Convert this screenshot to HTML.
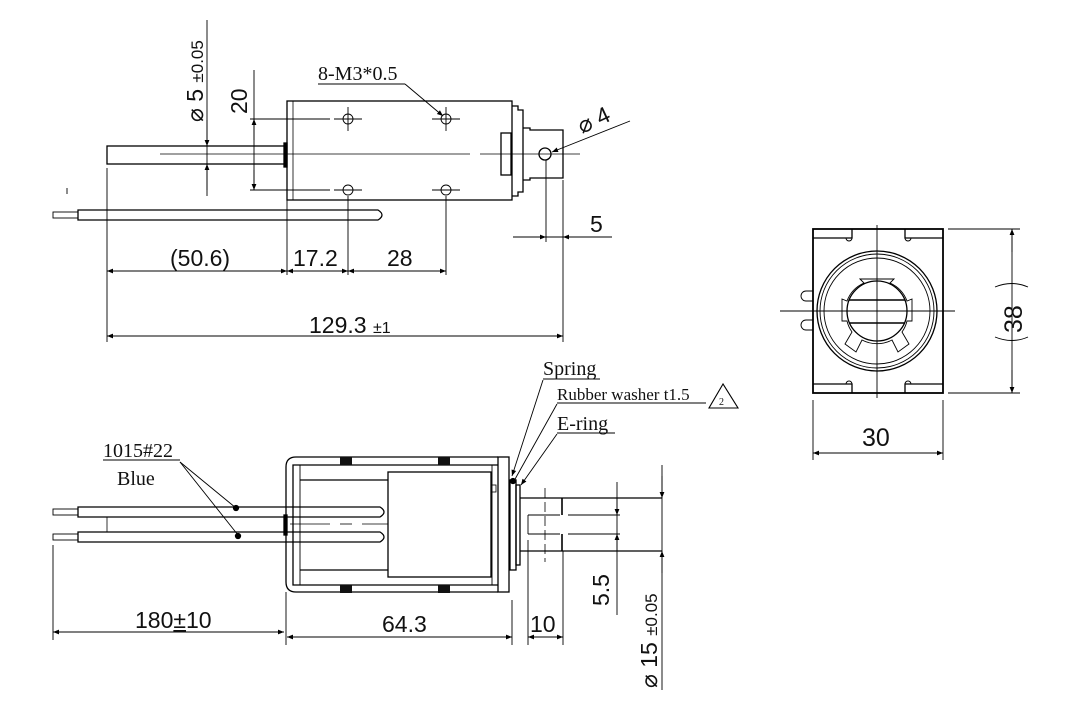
<!DOCTYPE html>
<html><head><meta charset="utf-8"><style>
html,body{margin:0;padding:0;background:#fff;}
svg{display:block;}
text{font-family:"Liberation Sans Narrow","Liberation Sans",sans-serif;fill:#111;}
.s{font-family:"Liberation Serif",serif;}
</style></head><body>
<svg width="1080" height="720" viewBox="0 0 1080 720" xmlns="http://www.w3.org/2000/svg">
<defs>
<marker id="a" viewBox="0 0 10 10" refX="10" refY="5" markerWidth="14" markerHeight="6" markerUnits="userSpaceOnUse" orient="auto-start-reverse"><path d="M0,1 L10,5 L0,9 z" fill="#000"/></marker>
</defs>
<g stroke="#000" fill="none" stroke-width="1.3">
<!-- TOP VIEW -->
<rect x="287" y="101" width="225" height="99"/>
<line x1="293" y1="101" x2="293" y2="200" stroke-width="0.8"/>
<rect x="107" y="146" width="178" height="18"/>
<rect x="284" y="143" width="3" height="24" fill="#000"/>
<line x1="160" y1="154" x2="470" y2="154" stroke-width="0.8"/>
<line x1="480" y1="154" x2="580" y2="154" stroke-width="0.8"/>
<path d="M512,106 H518 V110 H523 V192 H518 V196 H512"/>
<rect x="501" y="133" width="10" height="42"/>
<path d="M523,128 L530,128 L530,130 L563,130 L563,178 L530,178 L530,180 L523,180"/>
<circle cx="545" cy="154" r="6"/>
<g stroke-width="0.9">
<circle cx="348" cy="119" r="5"/><circle cx="446" cy="119" r="5"/>
<circle cx="348" cy="190" r="5"/><circle cx="446" cy="190" r="5"/>
<line x1="334" y1="119" x2="362" y2="119"/><line x1="432" y1="119" x2="460" y2="119"/>
<line x1="334" y1="190" x2="362" y2="190"/><line x1="432" y1="190" x2="460" y2="190"/>
<line x1="348" y1="107" x2="348" y2="131"/><line x1="446" y1="107" x2="446" y2="131"/>
</g>
<path d="M78,210 H378 Q386,215 378,220 H78 Z"/>
<rect x="53" y="212" width="25" height="6" stroke-width="0.9"/>
<line x1="67" y1="188" x2="67" y2="194" stroke-width="0.9"/>
<g stroke-width="0.9">
<line x1="250" y1="119" x2="330" y2="119"/><line x1="250" y1="190" x2="330" y2="190"/>
<line x1="254" y1="70" x2="254" y2="190"/>
<line x1="254" y1="140" x2="254" y2="119" marker-end="url(#a)"/>
<line x1="254" y1="170" x2="254" y2="190" marker-end="url(#a)"/>
<line x1="207" y1="20" x2="207" y2="196"/>
<line x1="207" y1="120" x2="207" y2="146" marker-end="url(#a)"/>
<line x1="207" y1="190" x2="207" y2="164" marker-end="url(#a)"/>
<line x1="318" y1="84" x2="405" y2="84"/>
<line x1="405" y1="84" x2="443" y2="116" marker-end="url(#a)"/>
<line x1="630" y1="121" x2="552" y2="152" marker-end="url(#a)"/>
<line x1="107" y1="168" x2="107" y2="342"/>
<line x1="287" y1="200" x2="287" y2="275"/>
<line x1="348" y1="196" x2="348" y2="275"/>
<line x1="446" y1="196" x2="446" y2="275"/>
<line x1="563" y1="180" x2="563" y2="342"/>
<line x1="546" y1="160" x2="546" y2="242"/>
<line x1="107" y1="271" x2="446" y2="271"/>
<line x1="130" y1="271" x2="107" y2="271" marker-end="url(#a)"/>
<line x1="265" y1="271" x2="287" y2="271" marker-end="url(#a)"/>
<line x1="305" y1="271" x2="287" y2="271" marker-end="url(#a)"/>
<line x1="330" y1="271" x2="348" y2="271" marker-end="url(#a)"/>
<line x1="366" y1="271" x2="348" y2="271" marker-end="url(#a)"/>
<line x1="428" y1="271" x2="446" y2="271" marker-end="url(#a)"/>
<line x1="107" y1="336" x2="563" y2="336"/>
<line x1="130" y1="336" x2="107" y2="336" marker-end="url(#a)"/>
<line x1="540" y1="336" x2="563" y2="336" marker-end="url(#a)"/>
<line x1="513" y1="237" x2="612" y2="237"/>
<line x1="526" y1="237" x2="546" y2="237" marker-end="url(#a)"/>
<line x1="583" y1="237" x2="563" y2="237" marker-end="url(#a)"/>
</g>
<!-- BOTTOM VIEW -->
<path d="M498,457 H296 Q286,457 286,467 V582 Q286,592 296,592 H498"/>
<path d="M498,465 H293 V585 H498"/>
<line x1="300" y1="465" x2="300" y2="585" stroke-width="0.9"/>
<rect x="498" y="457" width="11" height="135"/>
<line x1="492" y1="465" x2="492" y2="585" stroke-width="0.9"/>
<rect x="388" y="472" width="103" height="105"/>
<rect x="491" y="485" width="5" height="7" stroke-width="0.8"/>
<line x1="300" y1="480" x2="388" y2="480"/><line x1="300" y1="570" x2="388" y2="570"/>
<g fill="#111" stroke="none">
<rect x="340" y="457" width="12" height="8"/><rect x="438" y="457" width="12" height="8"/>
<rect x="340" y="585" width="12" height="8"/><rect x="438" y="585" width="12" height="8"/>
</g>
<path d="M78,507 H380 Q388,512 380,517 H78 Z"/>
<path d="M78,532 H380 Q388,537 380,542 H78 Z"/>
<rect x="53" y="509" width="25" height="6" stroke-width="0.9"/>
<rect x="53" y="534" width="25" height="6" stroke-width="0.9"/>
<line x1="107" y1="517" x2="107" y2="532" stroke-width="0.8"/>
<rect x="284" y="515" width="3" height="20" fill="#000"/>
<line x1="290" y1="524" x2="330" y2="524" stroke-width="0.8"/>
<line x1="340" y1="524" x2="352" y2="524" stroke-width="0.8"/>
<line x1="362" y1="524" x2="388" y2="524" stroke-width="0.8"/>
<rect x="510" y="480" width="6" height="90"/>
<rect x="516" y="485" width="4" height="80"/>
<path d="M520,498 H662 M520,551 H662"/>
<path d="M528,515 V534 M528,515 H560 M568,515 H620 M528,534 H560 M568,534 H620" stroke-width="0.9"/>
<line x1="562" y1="498" x2="562" y2="515" stroke-width="1.6"/><line x1="562" y1="534" x2="562" y2="551" stroke-width="1.6"/>
<line x1="545" y1="488" x2="545" y2="562" stroke-width="0.8" stroke-dasharray="10,4"/>
<g stroke-width="0.9">
<line x1="512" y1="600" x2="512" y2="645"/>
<line x1="528" y1="540" x2="528" y2="645"/>
<line x1="563" y1="551" x2="563" y2="645"/>
<line x1="286" y1="592" x2="286" y2="645"/>
<line x1="53" y1="545" x2="53" y2="640"/>
<line x1="53" y1="632" x2="284" y2="632"/>
<line x1="75" y1="632" x2="53" y2="632" marker-end="url(#a)"/>
<line x1="262" y1="632" x2="284" y2="632" marker-end="url(#a)"/>
<line x1="287" y1="637" x2="512" y2="637"/>
<line x1="309" y1="637" x2="287" y2="637" marker-end="url(#a)"/>
<line x1="490" y1="637" x2="512" y2="637" marker-end="url(#a)"/>
<line x1="528" y1="637" x2="563" y2="637"/>
<line x1="545" y1="637" x2="528" y2="637" marker-end="url(#a)"/>
<line x1="546" y1="637" x2="563" y2="637" marker-end="url(#a)"/>
<line x1="617" y1="482" x2="617" y2="615"/>
<line x1="617" y1="498" x2="617" y2="515" marker-end="url(#a)"/>
<line x1="617" y1="551" x2="617" y2="534" marker-end="url(#a)"/>
<line x1="662" y1="465" x2="662" y2="690"/>
<line x1="662" y1="476" x2="662" y2="498" marker-end="url(#a)"/>
<line x1="662" y1="573" x2="662" y2="551" marker-end="url(#a)"/>
<line x1="103" y1="460" x2="180" y2="460"/>
<line x1="180" y1="462" x2="236" y2="508"/><line x1="180" y1="462" x2="238" y2="535"/>
<line x1="543" y1="379" x2="600" y2="379"/>
<line x1="543" y1="380" x2="512" y2="476" marker-end="url(#a)"/>
<line x1="557" y1="403" x2="706" y2="403"/>
<line x1="557" y1="404" x2="514" y2="481"/>
<line x1="557" y1="433" x2="615" y2="433"/>
<line x1="557" y1="434" x2="521" y2="485" marker-end="url(#a)"/>
<path d="M723,384 L709,408 L738,408 Z" stroke-width="1.1"/>
</g>
<circle cx="236" cy="508" r="2.5" fill="#000"/><circle cx="238" cy="536" r="2.5" fill="#000"/>
<circle cx="513" cy="481" r="2.5" fill="#000"/>
<!-- RIGHT VIEW -->
<rect x="813" y="229" width="130" height="164" stroke-width="1.8"/>
<path d="M813,238 H852 V229 M905,229 V238 H943 M813,384 H852 V393 M905,393 V384 H943"/>
<path d="M846,238 a3,3 0 0 0 6,0 M905,238 a3,3 0 0 0 6,0 M846,384 a3,3 0 0 1 6,0 M905,384 a3,3 0 0 1 6,0" stroke-width="0.9"/>
<circle cx="877" cy="311" r="60"/>
<circle cx="877" cy="311" r="57" stroke-width="0.9"/>
<circle cx="877" cy="311" r="53" stroke-width="0.9"/>
<path d="M860,279 L864,283 A32,32 0 0 0 847,301 L842,299 V321 L847,321 A32,32 0 0 0 852,332 L845,344 L856,352 L862,340 A32,32 0 0 0 892,340 L898,352 L909,344 L902,332 A32,32 0 0 0 907,321 L912,321 V299 L907,301 A32,32 0 0 0 890,283 L894,279 Z" stroke-width="0.9"/>
<circle cx="877" cy="311" r="30"/>
<path d="M849,300 H905 M849,323 H905" stroke-width="1.6"/>
<path d="M813,291 H806 a5,5 0 0 0 0,10 H813 M813,320 H806 a5,5 0 0 0 0,10 H813" stroke-width="0.9"/>
<g stroke-width="0.9">
<line x1="780" y1="311" x2="955" y2="311"/>
<line x1="877" y1="225" x2="877" y2="398"/>
<line x1="948" y1="229" x2="1020" y2="229"/><line x1="948" y1="393" x2="1020" y2="393"/>
<line x1="1012" y1="229" x2="1012" y2="393"/>
<line x1="1012" y1="252" x2="1012" y2="229" marker-end="url(#a)"/>
<line x1="1012" y1="370" x2="1012" y2="393" marker-end="url(#a)"/>
<line x1="813" y1="400" x2="813" y2="460"/><line x1="943" y1="400" x2="943" y2="460"/>
<line x1="813" y1="453" x2="943" y2="453"/>
<line x1="835" y1="453" x2="813" y2="453" marker-end="url(#a)"/>
<line x1="921" y1="453" x2="943" y2="453" marker-end="url(#a)"/>
<path d="M995,287 Q1012,280 1028,287 M995,337 Q1012,344 1028,337"/>
</g>
</g>
<!-- TEXT -->
<text x="318" y="80" font-size="20" class="s">8-M3*0.5</text>
<text x="0" y="0" font-size="23" transform="translate(247,114) rotate(-90)">20</text>
<text x="0" y="0" font-size="23" transform="translate(203,122) rotate(-90)">⌀ 5 <tspan font-size="17">±0.05</tspan></text>
<text x="0" y="0" font-size="23" transform="translate(582,134) rotate(-25)">⌀ 4</text>
<text x="590" y="232" font-size="23">5</text>
<text x="170" y="266" font-size="23">(50.6)</text>
<text x="293" y="266" font-size="23">17.2</text>
<text x="387" y="266" font-size="23">28</text>
<text x="309" y="333" font-size="23">129.3 <tspan font-size="16">±1</tspan></text>
<text x="103" y="457" font-size="20" class="s">1015#22</text>
<text x="117" y="485" font-size="20" class="s">Blue</text>
<text x="543" y="375" font-size="20" class="s">Spring</text>
<text x="557" y="400" font-size="17" class="s">Rubber washer t1.5</text>
<text x="719" y="405" font-size="10" class="s">2</text>
<text x="557" y="430" font-size="20" class="s">E-ring</text>
<text x="135" y="628" font-size="23">180<tspan text-decoration="underline">±</tspan>10</text>
<text x="382" y="632" font-size="23">64.3</text>
<text x="530" y="632" font-size="23">10</text>
<text x="0" y="0" font-size="23" transform="translate(609,606) rotate(-90)">5.5</text>
<text x="0" y="0" font-size="23" transform="translate(657,688) rotate(-90)">⌀ 15 <tspan font-size="17">±0.05</tspan></text>
<text x="0" y="0" font-size="25" transform="translate(1022,333) rotate(-90)">38</text>
<text x="862" y="446" font-size="25">30</text>
</svg>
</body></html>
